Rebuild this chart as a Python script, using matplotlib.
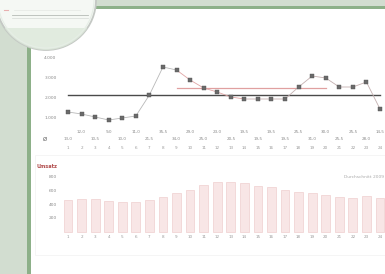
import numpy as np
import matplotlib
matplotlib.use('Agg')
from matplotlib import pyplot as plt
from matplotlib.patches import Circle, Rectangle

# line chart (upper panel)
days = list(range(1, 25))
values = [1300, 1200, 1050, 900, 1000, 1100, 2150, 3550, 3400, 2900, 2500, 2300,
          2050, 1950, 1950, 1950, 1950, 2550, 3100, 3000, 2550, 2550, 2800, 1450]
mean_all = 2150
mean_part = 2500
part_days = [9, 20]
y_ticks = [1000, 2000, 3000, 4000]
y_labels = ['1.000', '2.000', '3.000', '4.000']

# bar chart (lower panel)
bar_values = [470, 480, 480, 450, 440, 440, 470, 510, 570, 610, 690, 730,
              730, 720, 670, 660, 610, 580, 570, 540, 510, 500, 530, 500]
bar_ticks = [200, 400, 600, 800]
bar_title = 'Umsatz'
bar_note = 'Durchschnitt 2009'

W, H = 385, 274
fig = plt.figure(figsize=(W / 100, H / 100), dpi=100)
fig.patch.set_facecolor('white')

def px_axes(x0, y0, x1, y1):
	return fig.add_axes([x0 / W, 1 - y1 / H, (x1 - x0) / W, (y1 - y0) / H])

# page decoration
bg = px_axes(0, 0, W, H)
bg.set_xlim(0, W)
bg.set_ylim(H, 0)
bg.axis('off')
sage = '#d2ddd0'
dark_green = '#8db089'
bg.add_patch(Rectangle((0, 0), 27, H, color=sage, lw=0))
bg.add_patch(Rectangle((27, 0), 4, H, color=dark_green, lw=0))
bg.add_patch(Rectangle((0, 0), W, 6, color=sage, lw=0))
bg.add_patch(Rectangle((27, 6), W - 27, 3, color=dark_green, lw=0))
bg.add_patch(Rectangle((35, 155), 350, 100, facecolor='none', edgecolor='#f4f4f4', lw=0.6))
# magnifier circle
lens = Circle((46, 0), 50, facecolor='#f5f8f4', edgecolor='#c4c8c4', lw=1.3)
bg.add_patch(lens)
tint = Rectangle((-5, 28), 110, 30, color='#dce8da', lw=0, alpha=0.8)
bg.add_patch(tint)
tint.set_clip_path(lens)
bg.add_patch(Circle((46, 0), 48, facecolor='none', edgecolor='#e6eee6', lw=0.8))
bg.plot([12, 88], [15, 15], color='#b5bbb5', lw=0.6)
bg.plot([12, 88], [18, 18], color='#d6dad6', lw=0.5)
bg.plot([14, 80], [10, 10], color='#e4e8e4', lw=0.5)
bg.plot([4, 8], [10, 10], color='#e8b0b0', lw=0.8)

grey = '#8a8a8a'

# upper chart
px0 = 68
step = (380 - 68) / 23
xlim = (1 - (px0 - 58) / step, 1 + (385 - px0) / step)

ax = px_axes(58, 50, 385, 152)
ax.set_xlim(*xlim)
ax.set_ylim(-700, 4400)
ax.axis('off')
ax.axhline(mean_all, xmin=0.03, xmax=0.985, color='#4a4a4a', lw=1.0)
ax.plot(part_days, [mean_part, mean_part], color='#e0a0a0', lw=0.9)
ax.plot(days[:9], values[:9], color='#b8b8b8', lw=0.6)
ax.plot(days[8:14], values[8:14], color='#e0a5a5', lw=0.6)
ax.plot(days[13:], values[13:], color='#c4b0b0', lw=0.6)
ax.plot(days, values, 's', color='#6a6a6a', ms=2.4, mec='#555555', mew=0.3)
for t, lab in zip(y_ticks, y_labels):
	ax.text(xlim[0] - 0.1, t, lab, ha='right', va='center', fontsize=3.2, color=grey, clip_on=False)
ax.text(xlim[0] - 1.0, -50, 'Ø', ha='center', va='center', fontsize=4, color='#555555', clip_on=False)
for d, v in zip(days, values):
	y = 300 if d % 2 == 0 else -50
	ax.text(d, y, f'{v / 100:.1f}'.replace('.', ','), ha='center', va='center', fontsize=3.0, color=grey)
	ax.text(d, -500, str(d), ha='center', va='center', fontsize=3.0, color='#999999')

# lower chart
bx = px_axes(58, 170, 385, 242)
bx.set_xlim(*xlim)
bx.set_ylim(-146, 905)
bx.axis('off')
bx.bar(days, bar_values, width=0.65, color='#f8e6e6', edgecolor='#efcfcf', lw=0.5)
for t in bar_ticks:
	bx.text(xlim[0] - 0.1, t, str(t), ha='right', va='center', fontsize=3.2, color=grey, clip_on=False)
for d in days:
	bx.text(d, -73, str(d), ha='center', va='center', fontsize=3.0, color='#999999')
bx.text(xlim[0] - 1.6, 960, bar_title, ha='left', va='center', fontsize=3.6,
	color='#b04a4a', fontweight='bold', clip_on=False)
bx.text(xlim[1] - 0.1, 805, bar_note, ha='right', va='center', fontsize=3.2, color='#aaaaaa')

fig.savefig('out.png', dpi=100)
